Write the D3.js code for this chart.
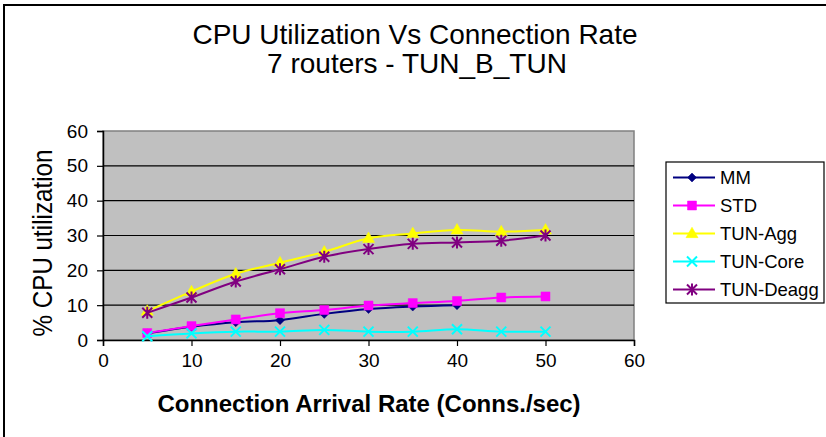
<!DOCTYPE html>
<html>
<head>
<meta charset="utf-8">
<script src="https://cdn.jsdelivr.net/npm/d3@7"></script>
<style>
html,body{margin:0;padding:0;background:#fff;}
svg{display:block;font-family:"Liberation Sans",Arial,sans-serif;}
</style>
</head>
<body>
<svg id="chart" width="826" height="437"></svg>
<script>
const rates = [5, 10, 15, 20, 25, 30, 35, 40, 45, 50];
const mm = [1.9, 3.8, 5.1, 5.7, 7.5, 8.9, 9.6, 10.0];
const std = [2.0, 4.0, 5.9, 7.7, 8.6, 9.9, 10.6, 11.2, 12.2, 12.5];
const tunAgg = [8.3, 13.9, 19.0, 22.2, 25.3, 29.2, 30.6, 31.6, 31.1, 31.6];
const tunCore = [1.1, 1.9, 2.4, 2.4, 2.9, 2.4, 2.4, 3.1, 2.4, 2.4];
const tunDeagg = [7.8, 12.2, 16.8, 20.3, 23.9, 26.1, 27.6, 28.0, 28.5, 30.0];
const xTicks = [0, 10, 20, 30, 40, 50, 60];
const yTicks = [0, 10, 20, 30, 40, 50, 60];
const seriesNames = ["MM", "STD", "TUN-Agg", "TUN-Core", "TUN-Deagg"];
const titleLines = ["CPU Utilization Vs Connection Rate", "7 routers - TUN_B_TUN"];

const series = [
  {name: seriesNames[0], values: mm, color: "#000080", marker: "diamond"},
  {name: seriesNames[1], values: std, color: "#FF00FF", marker: "square"},
  {name: seriesNames[2], values: tunAgg, color: "#FFFF00", marker: "triangle"},
  {name: seriesNames[3], values: tunCore, color: "#00FFFF", marker: "x"},
  {name: seriesNames[4], values: tunDeagg, color: "#800080", marker: "star"}
];

const svg = d3.select("#chart");
const plot = {left: 103, right: 634, top: 131, bottom: 340};
const x = d3.scaleLinear().domain([0, 60]).range([plot.left, plot.right]);
const y = d3.scaleLinear().domain([0, 60]).range([plot.bottom, plot.top]);

// outer frame
svg.append("rect").attr("x", 4).attr("y", 5).attr("width", 900).attr("height", 600)
  .attr("fill", "none").attr("stroke", "#000").attr("stroke-width", 2);

// title
svg.append("text").attr("x", 415).attr("y", 44).attr("text-anchor", "middle")
  .attr("font-size", 28).attr("fill", "#000").text(titleLines[0]);
svg.append("text").attr("x", 417).attr("y", 73).attr("text-anchor", "middle")
  .attr("font-size", 28).attr("fill", "#000").text(titleLines[1]);

// plot area
svg.append("rect").attr("x", plot.left).attr("y", plot.top)
  .attr("width", plot.right - plot.left).attr("height", plot.bottom - plot.top)
  .attr("fill", "#C0C0C0").attr("stroke", "#808080").attr("stroke-width", 1.5);

// gridlines
svg.append("g").selectAll("line").data(yTicks.filter(d => d > 0 && d < 60)).join("line")
  .attr("x1", plot.left).attr("x2", plot.right)
  .attr("y1", d => y(d)).attr("y2", d => y(d))
  .attr("stroke", "#000").attr("stroke-width", 1.2);

// axes
const xAxis = svg.append("g").attr("transform", `translate(0,${plot.bottom})`)
  .call(d3.axisBottom(x).tickValues(xTicks).tickSize(6).tickPadding(8).tickFormat(d3.format("d")));
const yAxis = svg.append("g").attr("transform", `translate(${plot.left},0)`)
  .call(d3.axisLeft(y).tickValues(yTicks).tickSize(6).tickPadding(9).tickFormat(d3.format("d")));
[xAxis, yAxis].forEach(a => {
  a.select(".domain").attr("stroke", "#000").attr("stroke-width", 1.5);
  a.selectAll(".tick line").attr("stroke", "#000").attr("stroke-width", 1.2);
  a.selectAll("text").attr("font-size", 19).attr("font-family", "Liberation Sans, Arial, sans-serif").attr("fill", "#000");
});

// axis titles
svg.append("text").attr("x", 369).attr("y", 412).attr("text-anchor", "middle")
  .attr("font-size", 24).attr("font-weight", "bold").attr("fill", "#000")
  .text("Connection Arrival Rate (Conns./sec)");
svg.append("text").attr("transform", "translate(52,243) rotate(-90)").attr("text-anchor", "middle")
  .attr("font-size", 27).attr("textLength", 187).attr("lengthAdjust", "spacingAndGlyphs")
  .attr("fill", "#000").text("% CPU utilization");

// marker paths
function markerPath(type, s) {
  switch (type) {
    case "diamond": return `M0,${-s}L${s},0L0,${s}L${-s},0Z`;
    case "square": return `M${-s},${-s}H${s}V${s}H${-s}Z`;
    case "triangle": return `M0,${-s * 1.15}L${s * 1.1},${s * 0.75}L${-s * 1.1},${s * 0.75}Z`;
    case "x": return `M${-s},${-s}L${s},${s}M${-s},${s}L${s},${-s}`;
    case "star": return `M${-s},${-s}L${s},${s}M${-s},${s}L${s},${-s}M0,${-s * 1.2}V${s * 1.2}`;
  }
}
const markerSize = {diamond: 4.5, square: 4.5, triangle: 5.5, x: 5, star: 5};
const filled = t => t === "diamond" || t === "square" || t === "triangle";

const line = d3.line().x(d => x(d[0])).y(d => y(d[1])).curve(d3.curveCatmullRom.alpha(0));

series.forEach(s => {
  const pts = s.values.map((v, i) => [rates[i], v]);
  const g = svg.append("g");
  g.append("path").datum(pts).attr("d", line).attr("fill", "none")
    .attr("stroke", s.color).attr("stroke-width", 2);
  g.selectAll("path.m").data(pts).join("path").attr("class", "m")
    .attr("transform", d => `translate(${x(d[0])},${y(d[1])})`)
    .attr("d", markerPath(s.marker, markerSize[s.marker]))
    .attr("fill", filled(s.marker) ? s.color : "none")
    .attr("stroke", s.color).attr("stroke-width", filled(s.marker) ? 0.5 : 2);
});

// legend
const lg = svg.append("g");
lg.append("rect").attr("x", 666).attr("y", 162).attr("width", 158).attr("height", 141)
  .attr("fill", "#fff").attr("stroke", "#000").attr("stroke-width", 1.2);
series.forEach((s, i) => {
  const cy = 177.5 + i * 28;
  lg.append("line").attr("x1", 673).attr("x2", 715).attr("y1", cy).attr("y2", cy)
    .attr("stroke", s.color).attr("stroke-width", 2);
  lg.append("path").attr("transform", `translate(692,${cy})`)
    .attr("d", markerPath(s.marker, markerSize[s.marker]))
    .attr("fill", filled(s.marker) ? s.color : "none")
    .attr("stroke", s.color).attr("stroke-width", filled(s.marker) ? 0.5 : 2);
  lg.append("text").attr("x", 720).attr("y", cy + 6.5).attr("font-size", 18.5)
    .attr("fill", "#000").text(s.name);
});
</script>
</body>
</html>
